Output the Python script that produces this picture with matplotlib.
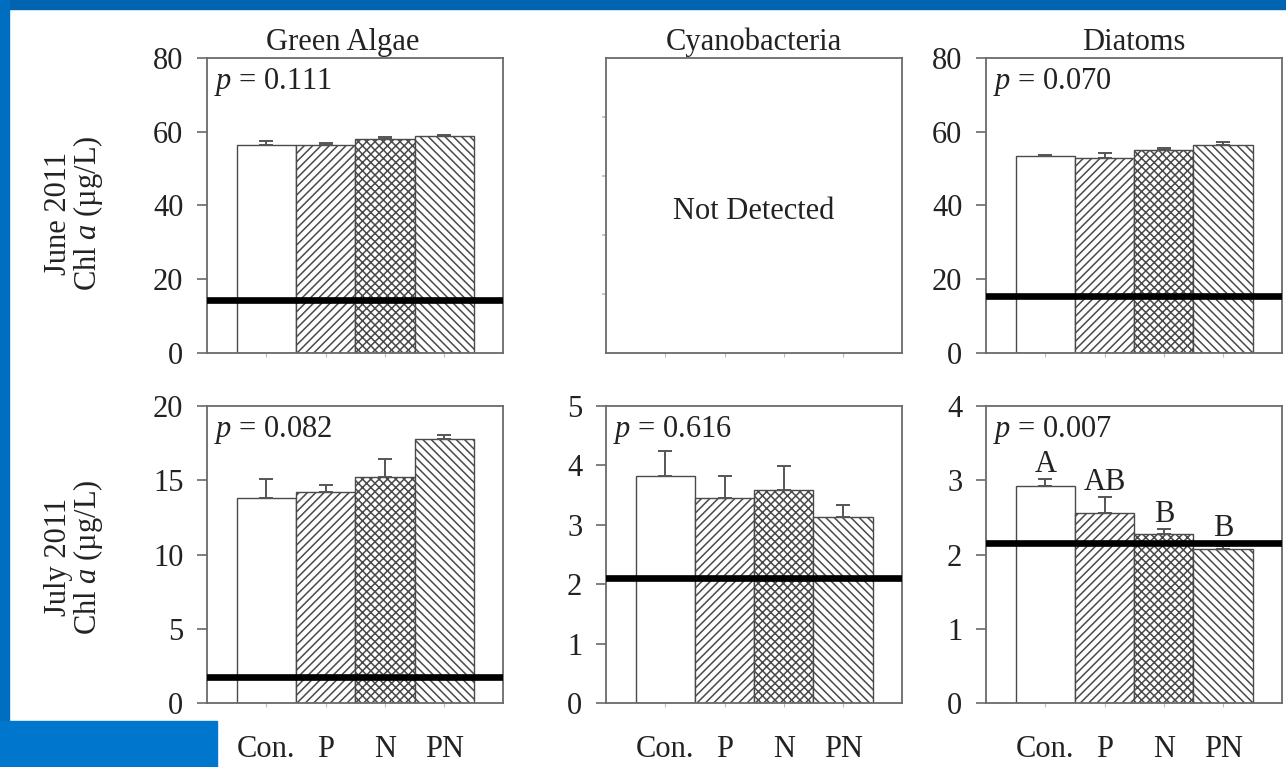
import numpy as np
import matplotlib
matplotlib.use("Agg")
import matplotlib.pyplot as plt
from matplotlib.patches import Rectangle

plt.rcParams['font.family'] = ['Liberation Serif', 'DejaVu Serif']
plt.rcParams['mathtext.fontset'] = 'custom'
plt.rcParams['mathtext.rm'] = 'Liberation Serif'
plt.rcParams['mathtext.it'] = 'Liberation Serif:italic'
plt.rcParams['hatch.linewidth'] = 1.1
plt.rcParams['hatch.color'] = '#3a3a3a'

# data
treatments = ["Con.", "P", "N", "PN"]
hatches = ["", "////", "xxxx", "\\\\\\\\"]

june_green = [56.3, 56.3, 58.1, 58.8]
june_green_err = [1.1, 0.7, 0.5, 0.4]
june_green_line = 14.5

june_diatom = [53.3, 52.8, 55.1, 56.3]
june_diatom_err = [0.3, 1.3, 0.5, 0.8]
june_diatom_line = 15.5

july_green = [13.8, 14.2, 15.2, 17.8]
july_green_err = [1.3, 0.5, 1.25, 0.25]
july_green_line = 1.75

july_cyano = [3.82, 3.45, 3.59, 3.14]
july_cyano_err = [0.42, 0.37, 0.40, 0.20]
july_cyano_line = 2.1

july_diatom = [2.92, 2.56, 2.27, 2.07]
july_diatom_err = [0.10, 0.21, 0.08, 0.05]
july_diatom_line = 2.15
july_diatom_letters = ["A", "AB", "B", "B"]

FS = 22
GRAY = '#6a6a6a'


def style_axes(ax, ymax, yticks, show_xlabels, ylabels=True):
    ax.set_xlim(-1, 4)
    ax.set_ylim(0, ymax)
    ax.set_yticks(yticks)
    ax.set_xticks(np.arange(len(treatments)))
    if show_xlabels:
        ax.set_xticklabels(treatments)
    else:
        ax.set_xticklabels([])
    if not ylabels:
        ax.set_yticklabels([])
    for s in ax.spines.values():
        s.set_color(GRAY)
        s.set_linewidth(1.3)
    ax.tick_params(axis='y', direction='out', length=7, width=1.2, color=GRAY,
                   pad=10, labelsize=FS, labelcolor='#222222')
    ax.tick_params(axis='x', direction='out', length=3, width=0.8, color='#bbbbbb',
                   pad=20, labelsize=FS, labelcolor='#222222')


def draw_panel(ax, means, errs, line, ymax, yticks, pval, show_xlabels, letters=None):
    x = np.arange(len(means))
    for i in range(len(means)):
        ax.bar(x[i], means[i], width=1.0, color='white', edgecolor='#4a4a4a',
               linewidth=1.0, hatch=hatches[i], zorder=2)
    ax.errorbar(x, means, yerr=[np.zeros(len(errs)), errs], fmt='none',
                ecolor='#555555', elinewidth=1.4, capsize=5, capthick=1.4, zorder=3)
    ax.axhline(line, color='black', linewidth=4.8, zorder=4)
    ax.text(0.025, 0.92, "$p$ = " + pval, transform=ax.transAxes, fontsize=FS,
            ha='left', va='center', color='#222222')
    if letters is not None:
        for i, lab in enumerate(letters):
            y = max(means[i] + errs[i], line)
            ax.annotate(lab, (x[i], y), xytext=(0, 0), textcoords='offset points',
                        ha='center', va='bottom', fontsize=FS, color='#222222', zorder=5)
    style_axes(ax, ymax, yticks, show_xlabels)


fig = plt.figure(figsize=(12.86, 7.67), dpi=100)

cols = [0.1610, 0.4712, 0.7667]
w = 0.2305
top_b, top_h = 0.5398, 0.3846
bot_b, bot_h = 0.0834, 0.3872

ax1 = fig.add_axes([cols[0], top_b, w, top_h])
ax2 = fig.add_axes([cols[1], top_b, w, top_h])
ax3 = fig.add_axes([cols[2], top_b, w, top_h])
ax4 = fig.add_axes([cols[0], bot_b, w, bot_h])
ax5 = fig.add_axes([cols[1], bot_b, w, bot_h])
ax6 = fig.add_axes([cols[2], bot_b, w, bot_h])

draw_panel(ax1, june_green, june_green_err, june_green_line, 80, [0, 20, 40, 60, 80],
           "0.111", False)
draw_panel(ax3, june_diatom, june_diatom_err, june_diatom_line, 80, [0, 20, 40, 60, 80],
           "0.070", False)
draw_panel(ax4, july_green, july_green_err, july_green_line, 20, [0, 5, 10, 15, 20],
           "0.082", True)
draw_panel(ax5, july_cyano, july_cyano_err, july_cyano_line, 5, [0, 1, 2, 3, 4, 5],
           "0.616", True)
draw_panel(ax6, july_diatom, july_diatom_err, july_diatom_line, 4, [0, 1, 2, 3, 4],
           "0.007", True, letters=july_diatom_letters)

# empty cyanobacteria panel in June
style_axes(ax2, 5, [1, 2, 3, 4], False, ylabels=False)
ax2.tick_params(axis='y', length=3, color='#bbbbbb')
ax2.text(0.5, 0.48, "Not Detected", transform=ax2.transAxes, fontsize=FS,
         ha='center', va='center', color='#222222')

ax1.set_title("Green Algae", fontsize=FS, pad=6, x=0.456, color='#222222')
ax2.set_title("Cyanobacteria", fontsize=FS, pad=6, color='#222222')
ax3.set_title("Diatoms", fontsize=FS, pad=6, color='#222222')

fig.text(0.058, 0.722, "June 2011\nChl $a$ (µg/L)", rotation=90, fontsize=FS,
         ha='center', va='center', linespacing=0.9, color='#222222')
fig.text(0.058, 0.274, "July 2011\nChl $a$ (µg/L)", rotation=90, fontsize=FS,
         ha='center', va='center', linespacing=0.9, color='#222222')

# blue slide frame
fig.patches.append(Rectangle((0, 1 - 9 / 767), 1, 9 / 767, transform=fig.transFigure,
                             color='#0064B0', zorder=0))
fig.patches.append(Rectangle((0, 0), 9 / 1286, 1, transform=fig.transFigure,
                             color='#006EC0', zorder=0))
fig.patches.append(Rectangle((0, 0), 217 / 1286, 46 / 767, transform=fig.transFigure,
                             color='#0077CC', zorder=0))

fig.savefig("out.png", dpi=100)
